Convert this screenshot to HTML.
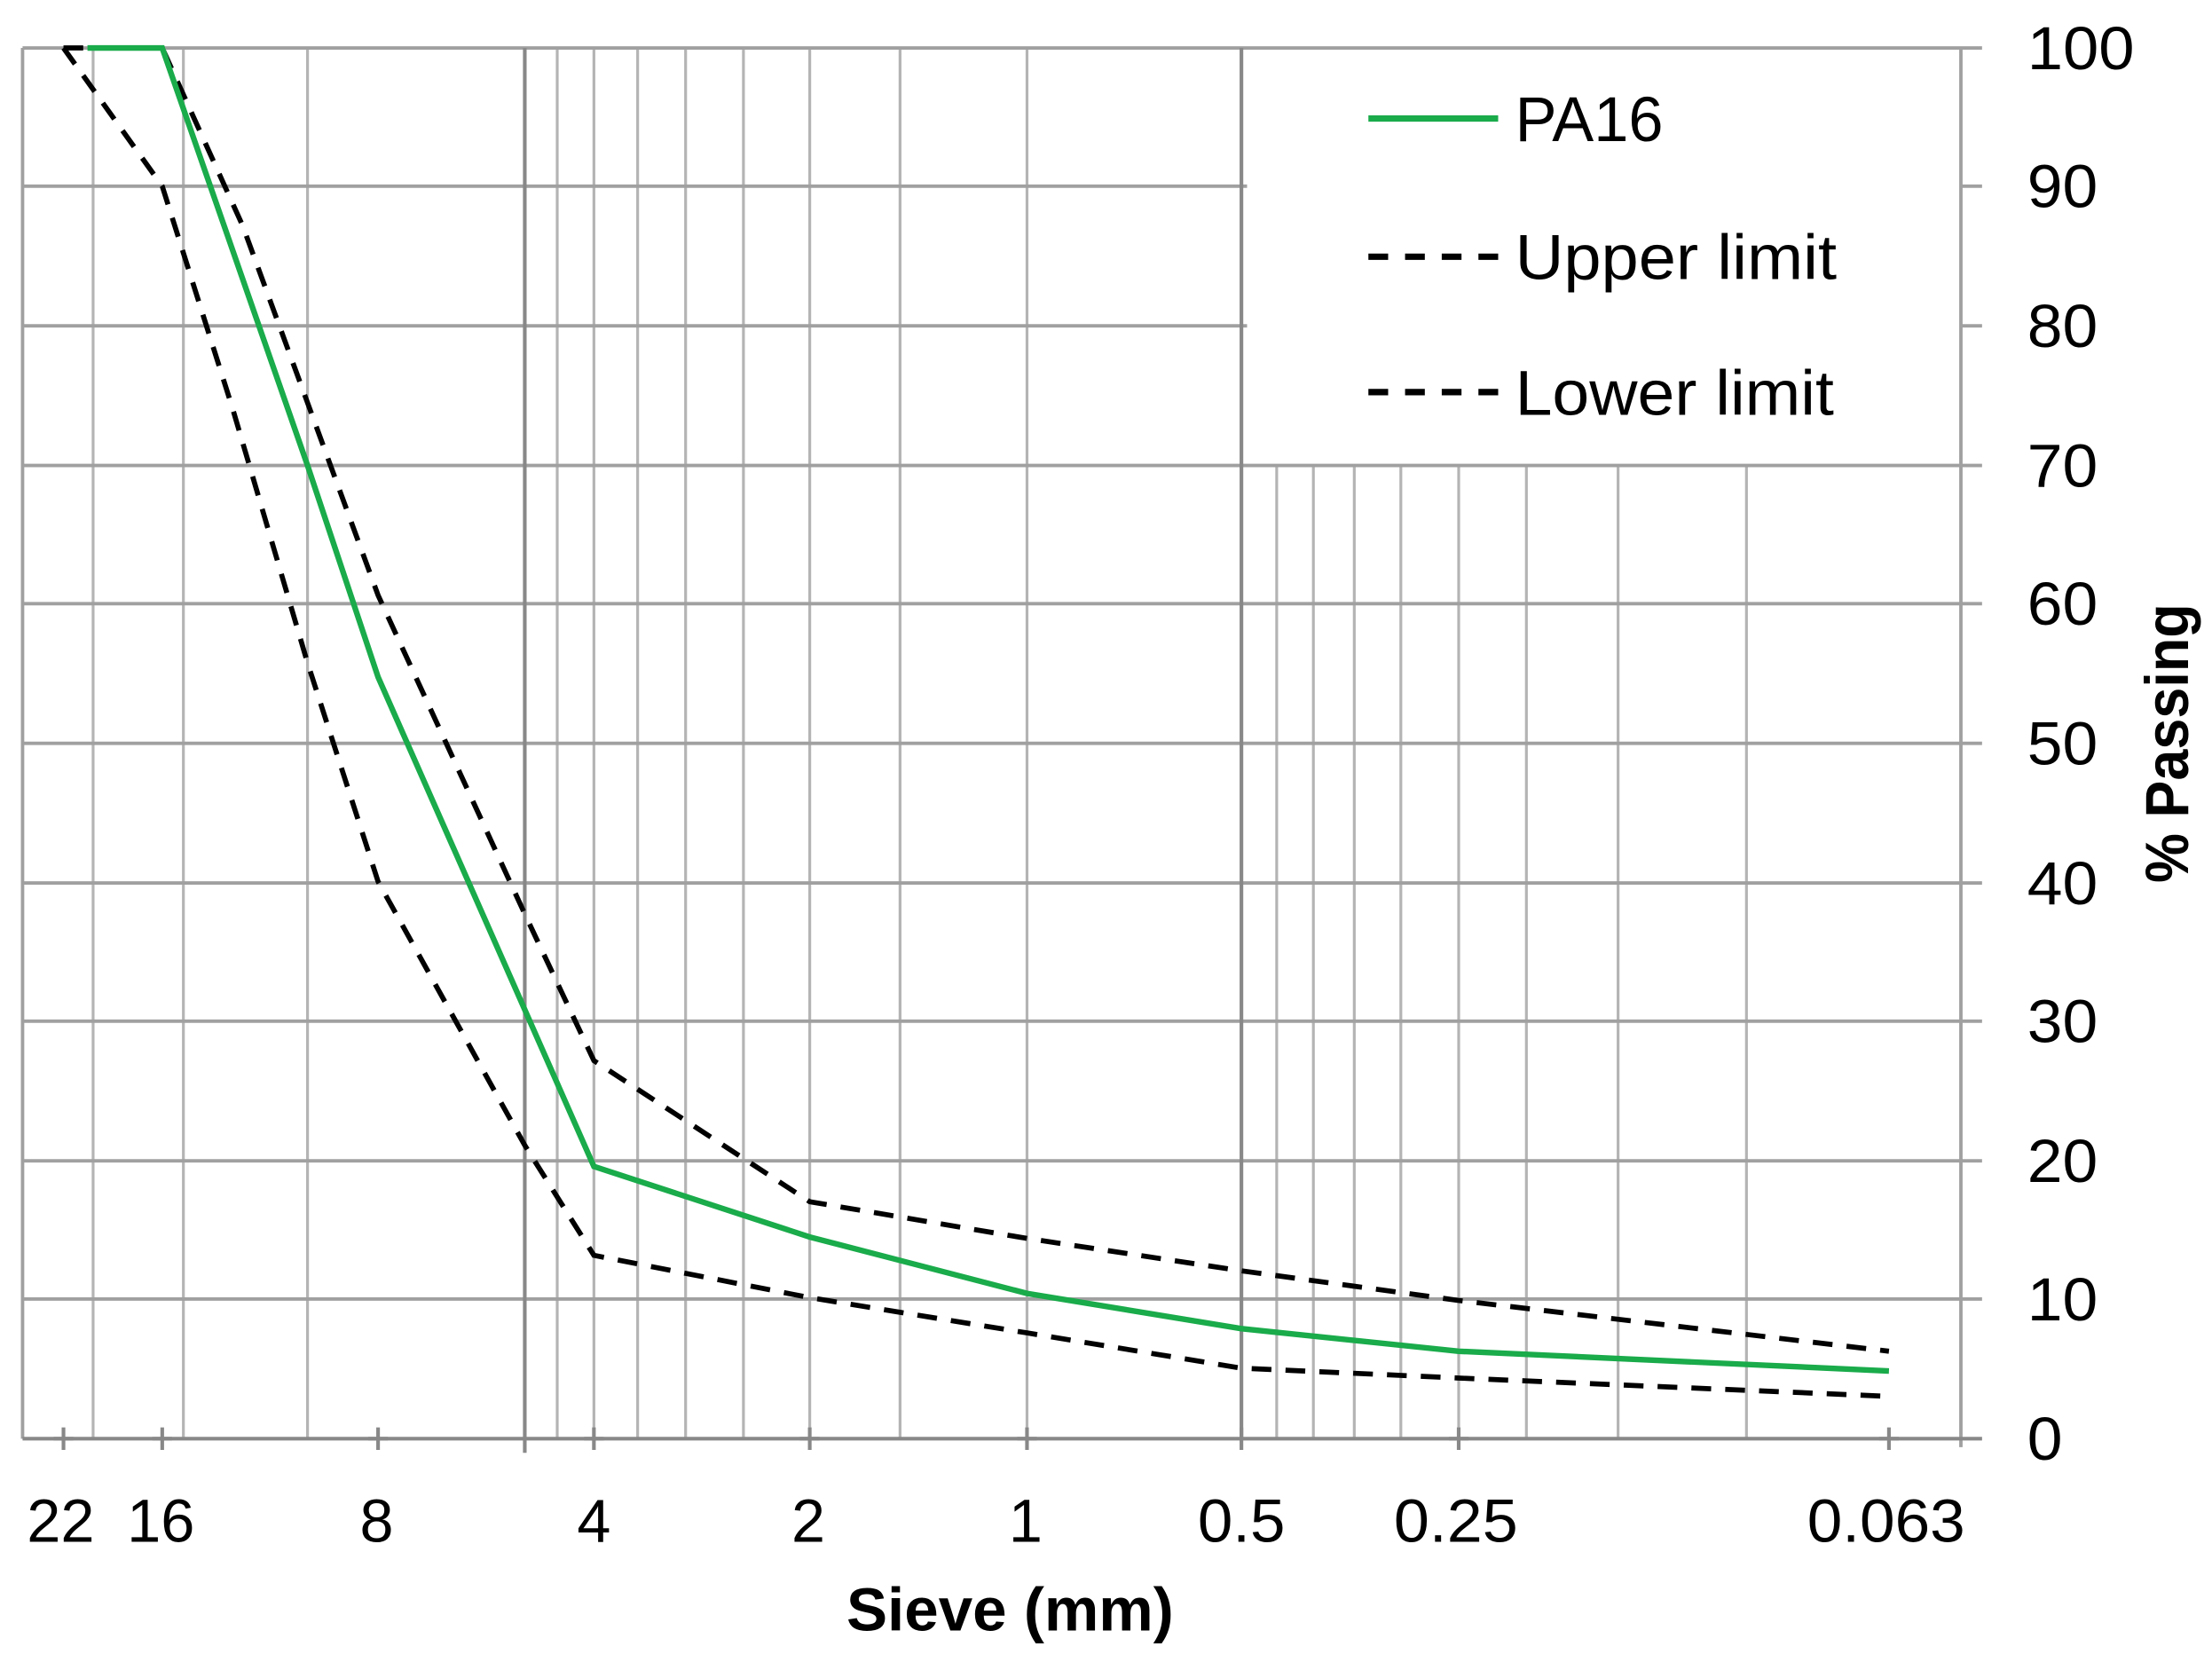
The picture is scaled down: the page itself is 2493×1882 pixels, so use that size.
<!DOCTYPE html>
<html><head><meta charset="utf-8"><style>html,body{margin:0;padding:0;background:#fff}svg{display:block}</style></head>
<body>
<svg width="2493" height="1882" viewBox="0 0 1568 1184" preserveAspectRatio="none" xmlns="http://www.w3.org/2000/svg" font-family="Liberation Sans, sans-serif">
<rect width="1568" height="1184" fill="#fff"/>
<g stroke="#b4b4b4" stroke-width="2" fill="none">
<path d="M66 34V1020 M130 34V1020 M218 34V1020 M395 34V1020 M421 34V1020 M452 34V1020 M486 34V1020 M527 34V1020 M574 34V1020 M638 34V1020 M728 34V1020"/>
<path d="M905 330V1020 M931 330V1020 M960 330V1020 M993 330V1020 M1034 330V1020 M1082 330V1020 M1147 330V1020 M1238 330V1020"/>
</g>
<g stroke="#a0a0a0" stroke-width="2.4" fill="none">
<path d="M16 34H1390 M16 330H1405 M16 428H1405 M16 527H1405 M16 626H1405 M16 724H1405 M16 823H1405 M16 921H1405"/>
<path d="M16 132H884 M16 231H884 M1390 132H1405 M1390 231H1405 M1390 34H1405"/>
<path d="M16 34V1020 M1390 34V1026"/>
</g>
<g stroke="#888" stroke-width="2.6" fill="none">
<path d="M372 34V1030 M880 34V1020"/>
<path d="M16 1020H1405"/>
<path d="M45 1012V1028 M115 1012V1028 M268 1012V1028 M421 1012V1028 M574 1012V1028 M728 1012V1028 M880 1012V1028 M1034 1012V1028 M1339 1012V1028"/>
<path d="M38 1020h14 M108 1020h14 M261 1020h14 M414 1020h14 M567 1020h14 M721 1020h14 M1027 1020h14 M1332 1020h14"/>
</g>
<polyline fill="none" stroke="#000" stroke-width="3.6" stroke-dasharray="14 10" points="45,34 115,34 172,160 268,422 372,648 421,752 574,852 728,878 880,901 1034,922 1339,958"/>
<polyline fill="none" stroke="#000" stroke-width="3.6" stroke-dasharray="14 10" points="45,34 115,132 165,290 218,470 268,625 372,812 421,890 574,920 728,945 880,970 1034,977 1339,990"/>
<polyline fill="none" stroke="#1aab4b" stroke-width="4" points="62,34 115,34 218,330 268,480 421,827 574,877 728,917 880,942 1034,958 1339,972"/>
<line x1="970" y1="84" x2="1062" y2="84" stroke="#1aab4b" stroke-width="4.5"/>
<line x1="970" y1="182" x2="1062" y2="182" stroke="#000" stroke-width="4.5" stroke-dasharray="14 12"/>
<line x1="970" y1="278" x2="1062" y2="278" stroke="#000" stroke-width="4.5" stroke-dasharray="14 12"/>
<g font-size="45" fill="#000">
<text x="1074" y="100" textLength="105" lengthAdjust="spacingAndGlyphs">PA16</text>
<text x="1074" y="198" textLength="228" lengthAdjust="spacingAndGlyphs">Upper limit</text>
<text x="1074" y="294" textLength="226" lengthAdjust="spacingAndGlyphs">Lower limit</text>
</g>
<g font-size="43" fill="#000">
<text x="1437" y="49" textLength="76" lengthAdjust="spacingAndGlyphs">100</text>
<text x="1437" y="147" textLength="50" lengthAdjust="spacingAndGlyphs">90</text>
<text x="1437" y="246" textLength="50" lengthAdjust="spacingAndGlyphs">80</text>
<text x="1437" y="345" textLength="50" lengthAdjust="spacingAndGlyphs">70</text>
<text x="1437" y="443" textLength="50" lengthAdjust="spacingAndGlyphs">60</text>
<text x="1437" y="542" textLength="50" lengthAdjust="spacingAndGlyphs">50</text>
<text x="1437" y="641" textLength="50" lengthAdjust="spacingAndGlyphs">40</text>
<text x="1437" y="739" textLength="50" lengthAdjust="spacingAndGlyphs">30</text>
<text x="1437" y="838" textLength="50" lengthAdjust="spacingAndGlyphs">20</text>
<text x="1437" y="936" textLength="50" lengthAdjust="spacingAndGlyphs">10</text>
<text x="1437" y="1035" textLength="25" lengthAdjust="spacingAndGlyphs">0</text>
</g>
<g font-size="43" fill="#000" text-anchor="middle">
<text x="43" y="1093" textLength="48" lengthAdjust="spacingAndGlyphs">22</text>
<text x="114" y="1093" textLength="48" lengthAdjust="spacingAndGlyphs">16</text>
<text x="267" y="1093">8</text>
<text x="421" y="1093">4</text>
<text x="573" y="1093">2</text>
<text x="727" y="1093">1</text>
<text x="880" y="1093" textLength="62" lengthAdjust="spacingAndGlyphs">0.5</text>
<text x="1032" y="1093" textLength="88" lengthAdjust="spacingAndGlyphs">0.25</text>
<text x="1337" y="1093" textLength="112" lengthAdjust="spacingAndGlyphs">0.063</text>
</g>
<text x="716" y="1156" font-size="43" font-weight="bold" text-anchor="middle" textLength="232" lengthAdjust="spacingAndGlyphs">Sieve (mm)</text>
<text transform="translate(1551,527) rotate(-90)" font-size="43" font-weight="bold" text-anchor="middle" textLength="198" lengthAdjust="spacingAndGlyphs">% Passing</text>
</svg>
</body></html>
